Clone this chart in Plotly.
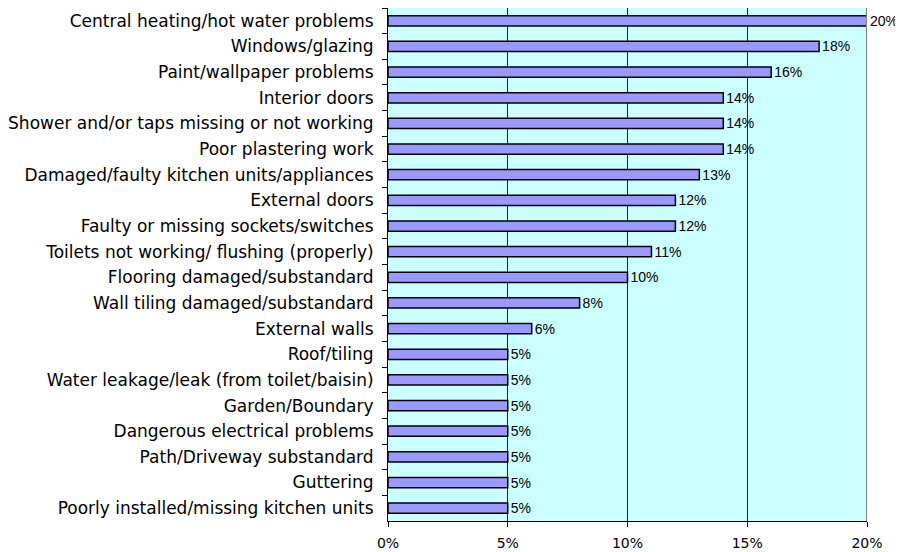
import plotly.graph_objects as go

categories = [
    "Central heating/hot water problems",
    "Windows/glazing",
    "Paint/wallpaper problems",
    "Interior doors",
    "Shower and/or taps missing or not working",
    "Poor plastering work",
    "Damaged/faulty kitchen units/appliances",
    "External doors",
    "Faulty or missing sockets/switches",
    "Toilets not working/ flushing (properly)",
    "Flooring damaged/substandard",
    "Wall tiling damaged/substandard",
    "External walls",
    "Roof/tiling",
    "Water leakage/leak (from toilet/baisin)",
    "Garden/Boundary",
    "Dangerous electrical problems",
    "Path/Driveway substandard",
    "Guttering",
    "Poorly installed/missing kitchen units",
]
values = [0.20, 0.18, 0.16, 0.14, 0.14, 0.14, 0.13, 0.12, 0.12, 0.11,
          0.10, 0.08, 0.06, 0.05, 0.05, 0.05, 0.05, 0.05, 0.05, 0.05]
x_ticks = [0, 0.05, 0.10, 0.15, 0.20]
x_tick_labels = ["0%", "5%", "10%", "15%", "20%"]

fig = go.Figure(go.Bar(
    x=values,
    y=categories,
    orientation="h",
    width=0.4,
    marker=dict(color="#9999FF", line=dict(color="black", width=1.5)),
    text=[f"{round(v*100)}%" for v in values],
    textposition="outside",
    constraintext="none",
    textfont=dict(family="Liberation Sans, Arial", size=14, color="black"),
    cliponaxis=False,
))

fig.update_layout(
    width=895, height=544,
    margin=dict(l=380, r=36, t=0, b=31, autoexpand=False),
    plot_bgcolor="#CCFFFF",
    paper_bgcolor="white",
    showlegend=False,
    font=dict(family="DejaVu Sans, Verdana", color="black"),
)
fig.update_xaxes(
    range=[0, 0.2],
    tickvals=x_ticks,
    ticktext=x_tick_labels,
    ticks="outside", ticklen=5, tickcolor="black",
    showgrid=True, gridcolor="#222222", gridwidth=1,
    showline=True, linecolor="black", linewidth=1,
    tickfont=dict(family="DejaVu Sans, Verdana", size=14),
    ticklabelstandoff=4,
    zeroline=False,
    automargin=False,
)
fig.update_yaxes(
    autorange="reversed",
    tickson="boundaries",
    ticks="outside", ticklen=5, tickcolor="black",
    showline=True, linecolor="black", linewidth=1,
    tickfont=dict(family="DejaVu Sans, Verdana", size=17),
    ticklabelstandoff=10,
    automargin=False,
)
fig.add_shape(type="line", xref="x", yref="paper", x0=0.2, x1=0.2, y0=0, y1=1,
              line=dict(color="#808080", width=2))

fig.write_html("out.html")
